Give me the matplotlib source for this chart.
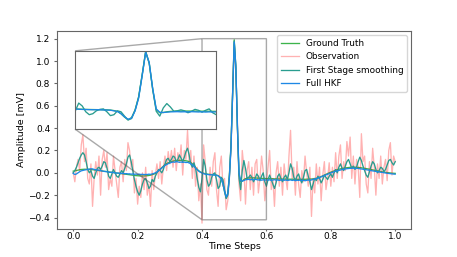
import numpy as np
import matplotlib
matplotlib.use("Agg")
import matplotlib.pyplot as plt

t = np.linspace(0, 1, 201)

ground_truth = [
    0.015, 0.018, 0.022, 0.025, 0.028, 0.030, 0.031, 0.032, 0.032, 0.031, 0.030, 0.029, 0.028, 0.026, 0.024, 0.022, 0.020, 0.018, 0.016, 0.014, 0.012,
    0.010, 0.008, 0.006, 0.004, 0.002, 0.000, -0.002, -0.004, -0.006, -0.008, -0.010, -0.012, -0.014, -0.016, -0.018, -0.020, -0.022, -0.024, -0.025, -0.026,
    -0.027, -0.028, -0.028, -0.028, -0.027, -0.026, -0.024, -0.021, -0.017, -0.012, -0.005, 0.005, 0.018, 0.032, 0.046, 0.060, 0.072, 0.082, 0.090, 0.096,
    0.101, 0.105, 0.108, 0.110, 0.111, 0.112, 0.112, 0.111, 0.110, 0.108, 0.105, 0.100, 0.092, 0.080, 0.065, 0.048, 0.032, 0.018, 0.008, 0.001,
    -0.004, -0.008, -0.011, -0.013, -0.015, -0.016, -0.017, -0.018, -0.020, -0.025, -0.035, -0.050, -0.100, -0.170, -0.225, -0.180, -0.020, 0.250, 0.700, 1.190,
    0.950, 0.400, -0.020, -0.080, -0.075, -0.060, -0.052, -0.048, -0.046, -0.045, -0.045, -0.045, -0.046, -0.047, -0.048, -0.049, -0.050, -0.050, -0.051, -0.051,
    -0.052, -0.052, -0.053, -0.053, -0.054, -0.054, -0.055, -0.055, -0.055, -0.056, -0.056, -0.056, -0.057, -0.057, -0.057, -0.057, -0.058, -0.058, -0.058, -0.058,
    -0.058, -0.058, -0.058, -0.058, -0.057, -0.057, -0.056, -0.055, -0.054, -0.052, -0.049, -0.045, -0.040, -0.034, -0.027, -0.020, -0.013, -0.006, 0.000, 0.006,
    0.012, 0.018, 0.023, 0.028, 0.032, 0.036, 0.039, 0.042, 0.044, 0.046, 0.048, 0.049, 0.050, 0.050, 0.050, 0.049, 0.048, 0.047, 0.045, 0.043,
    0.041, 0.038, 0.035, 0.032, 0.029, 0.026, 0.023, 0.020, 0.017, 0.014, 0.011, 0.008, 0.006, 0.004, 0.002, 0.000, -0.002, -0.003, -0.004, -0.005,
]

observation = [
    0.00, -0.08, 0.05, 0.12, 0.02, 0.25, 0.34, 0.10, 0.22, -0.05, -0.10, 0.08, -0.30, -0.05, 0.10, -0.02, 0.15, -0.20, 0.12, 0.20, 0.05,
    0.18, -0.15, -0.05, -0.12, 0.15, 0.02, -0.10, -0.22, 0.05, 0.10, -0.08, 0.12, 0.02, 0.27, 0.20, 0.05, 0.12, -0.18, -0.05, -0.28,
    -0.12, -0.22, 0.00, -0.15, 0.05, -0.20, -0.10, -0.30, 0.02, -0.15, -0.02, 0.08, -0.05, 0.10, -0.10, 0.05, 0.15, 0.02, 0.19, 0.08,
    0.20, 0.05, 0.22, 0.02, 0.18, 0.10, 0.25, -0.02, 0.20, 0.12, 0.38, 0.10, 0.20, -0.05, 0.15, -0.12, 0.05, -0.25, -0.10, -0.45,
    0.25, 0.10, -0.15, -0.20, 0.05, -0.12, 0.10, 0.18, -0.15, -0.30, 0.05, 0.15, -0.12, -0.05, -0.33, -0.25, -0.05, 0.22, 0.72, 1.15,
    0.92, 0.45, -0.10, -0.25, 0.20, 0.05, -0.28, 0.02, 0.10, -0.15, 0.05, -0.20, 0.08, 0.12, -0.18, -0.05, 0.15, 0.02, -0.25, -0.10,
    0.05, 0.20, -0.15, -0.05, -0.30, 0.00, 0.10, -0.12, 0.05, -0.20, 0.08, -0.05, -0.15, 0.15, 0.38, -0.05, 0.05, -0.20, 0.10, -0.10,
    -0.22, 0.02, -0.08, 0.15, 0.00, -0.12, 0.05, -0.39, -0.05, -0.18, 0.08, -0.10, 0.05, -0.25, -0.02, 0.10, -0.15, -0.05, 0.09, -0.12,
    0.05, -0.08, 0.18, -0.05, 0.15, 0.25, -0.05, 0.10, 0.02, 0.28, 0.15, 0.32, -0.05, 0.15, -0.10, 0.12, 0.05, -0.22, 0.35, 0.10,
    0.15, -0.10, -0.18, 0.10, -0.05, 0.22, 0.05, -0.20, 0.08, -0.05, 0.15, -0.10, 0.05, 0.12, -0.07, 0.20, 0.27, -0.02, 0.15, 0.10,
]

first_stage = [
    0.00, 0.02, 0.05, 0.09, 0.13, 0.16, 0.18, 0.16, 0.10, 0.03, 0.00, 0.02, -0.03, -0.05, 0.00, 0.04, 0.05, 0.03, 0.06, 0.10, 0.09,
    0.04, -0.03, -0.05, -0.01, 0.03, 0.00, -0.03, -0.04, -0.01, 0.02, 0.00, 0.04, 0.08, 0.14, 0.16, 0.10, 0.02, -0.06, -0.12, -0.17,
    -0.20, -0.16, -0.10, -0.06, -0.05, -0.09, -0.14, -0.12, -0.06, -0.08, -0.03, 0.00, 0.03, 0.02, 0.00, 0.03, 0.08, 0.12, 0.13, 0.10,
    0.12, 0.15, 0.14, 0.10, 0.12, 0.16, 0.13, 0.10, 0.14, 0.19, 0.22, 0.16, 0.08, 0.05, 0.09, 0.04, -0.05, -0.13, -0.17, -0.05,
    0.12, 0.06, -0.06, -0.12, -0.10, -0.04, -0.01, 0.00, -0.06, -0.14, -0.12, -0.04, -0.06, -0.15, -0.23, -0.20, -0.03, 0.24, 0.70, 1.18,
    0.94, 0.40, -0.05, -0.15, 0.02, 0.11, 0.04, -0.05, -0.04, -0.02, -0.04, -0.08, -0.05, -0.01, -0.03, -0.07, -0.03, 0.00, -0.08, -0.12,
    -0.06, -0.02, -0.06, -0.10, -0.14, -0.09, -0.03, -0.01, -0.05, -0.08, -0.04, -0.02, -0.06, 0.00, 0.08, 0.04, -0.04, -0.07, -0.03, -0.01,
    -0.06, -0.09, -0.04, 0.02, 0.03, -0.03, -0.08, -0.15, -0.10, -0.05, -0.07, -0.03, -0.05, -0.09, -0.06, -0.02, -0.04, -0.06, -0.03, -0.01,
    -0.04, 0.00, 0.03, 0.00, 0.05, 0.08, 0.04, 0.02, 0.06, 0.10, 0.12, 0.08, 0.04, 0.06, 0.03, 0.05, 0.10, 0.14, 0.11, 0.06,
    0.02, -0.02, -0.04, 0.01, 0.06, 0.10, 0.08, 0.03, 0.00, 0.02, 0.05, 0.04, 0.01, 0.03, 0.07, 0.11, 0.12, 0.09, 0.07, 0.10,
]

full_hkf = [
    -0.005, -0.015, -0.010, 0.000, 0.010, 0.018, 0.022, 0.025, 0.028, 0.030, 0.033, 0.036, 0.035, 0.030, 0.027, 0.025, 0.024, 0.020, 0.015, 0.013, 0.012,
    0.010, 0.006, 0.004, 0.005, 0.003, 0.000, -0.003, -0.002, -0.005, -0.004, -0.006, -0.008, -0.007, -0.010, -0.009, -0.012, -0.010, -0.013, -0.011, -0.014,
    -0.012, -0.015, -0.013, -0.016, -0.014, -0.015, -0.012, -0.014, -0.010, -0.006, 0.000, 0.008, 0.018, 0.030, 0.042, 0.055, 0.066, 0.074, 0.082, 0.088,
    0.093, 0.097, 0.095, 0.100, 0.098, 0.094, 0.097, 0.093, 0.096, 0.092, 0.094, 0.088, 0.082, 0.072, 0.058, 0.042, 0.028, 0.015, 0.005, -0.002,
    -0.008, -0.012, -0.014, -0.016, -0.018, -0.017, -0.019, -0.020, -0.022, -0.027, -0.040, -0.055, -0.100, -0.165, -0.215, -0.190, -0.040, 0.220, 0.680, 1.170,
    0.960, 0.420, 0.000, -0.070, -0.075, -0.068, -0.062, -0.060, -0.058, -0.062, -0.060, -0.063, -0.058, -0.061, -0.064, -0.060, -0.066, -0.062, -0.065, -0.063,
    -0.066, -0.062, -0.068, -0.064, -0.061, -0.066, -0.063, -0.068, -0.065, -0.062, -0.067, -0.064, -0.069, -0.066, -0.063, -0.068, -0.065, -0.070, -0.066, -0.068,
    -0.064, -0.069, -0.066, -0.071, -0.067, -0.064, -0.068, -0.063, -0.060, -0.056, -0.052, -0.048, -0.042, -0.036, -0.030, -0.024, -0.018, -0.012, -0.006, 0.000,
    0.005, 0.010, 0.014, 0.018, 0.022, 0.026, 0.029, 0.032, 0.035, 0.037, 0.039, 0.040, 0.041, 0.042, 0.040, 0.041, 0.039, 0.037, 0.035, 0.033,
    0.030, 0.028, 0.025, 0.023, 0.020, 0.018, 0.015, 0.012, 0.010, 0.008, 0.005, 0.003, 0.001, -0.002, -0.004, -0.006, -0.008, -0.010, -0.011, -0.012,
]

c_gt = '#3cb44b'
c_obs = '#ff0000'
c_fs = '#2a9d8f'
c_hkf = '#1e88e5'
lw = 0.95

fig = plt.figure(figsize=(4.57, 2.57), dpi=100)
ax = fig.add_subplot(111)
ax.plot(t, ground_truth, color=c_gt, lw=lw, label='Ground Truth')
ax.plot(t, observation, color=c_obs, lw=lw, alpha=0.3, label='Observation')
ax.plot(t, first_stage, color=c_fs, lw=lw, label='First Stage smoothing')
ax.plot(t, full_hkf, color=c_hkf, lw=lw, label='Full HKF')
ax.set_xlim(-0.05, 1.05)
ax.set_ylim(-0.5, 1.27)
ax.set_xticks([0.0, 0.2, 0.4, 0.6, 0.8, 1.0])
ax.set_yticks([-0.4, -0.2, 0.0, 0.2, 0.4, 0.6, 0.8, 1.0, 1.2])
ax.tick_params(axis='x', labelsize=6.5, length=1.5, pad=1.0, color='#666666')
ax.tick_params(axis='y', labelsize=6.5, length=2.5, pad=2.5, color='#666666')
ax.set_xlabel('Time Steps', fontsize=6.8, labelpad=0.5)
ax.set_ylabel('Amplitude [mV]', fontsize=6.8, labelpad=1.5)
ax.legend(loc='upper right', fontsize=6.4)
for s in ax.spines.values():
    s.set_color('#666666')

axins = ax.inset_axes([0.051, 0.503, 0.398, 0.396])
axins.plot(t, ground_truth, color=c_gt, lw=lw)
axins.plot(t, first_stage, color=c_fs, lw=lw)
axins.plot(t, full_hkf, color=c_hkf, lw=lw)
axins.set_xlim(0.4, 0.6)
axins.set_ylim(-0.42, 1.2)
axins.set_xticks([])
axins.set_yticks([])
for s in axins.spines.values():
    s.set_color('#666666')
ax.indicate_inset_zoom(axins, edgecolor='#555555')

fig.savefig('out.png', dpi=100)
